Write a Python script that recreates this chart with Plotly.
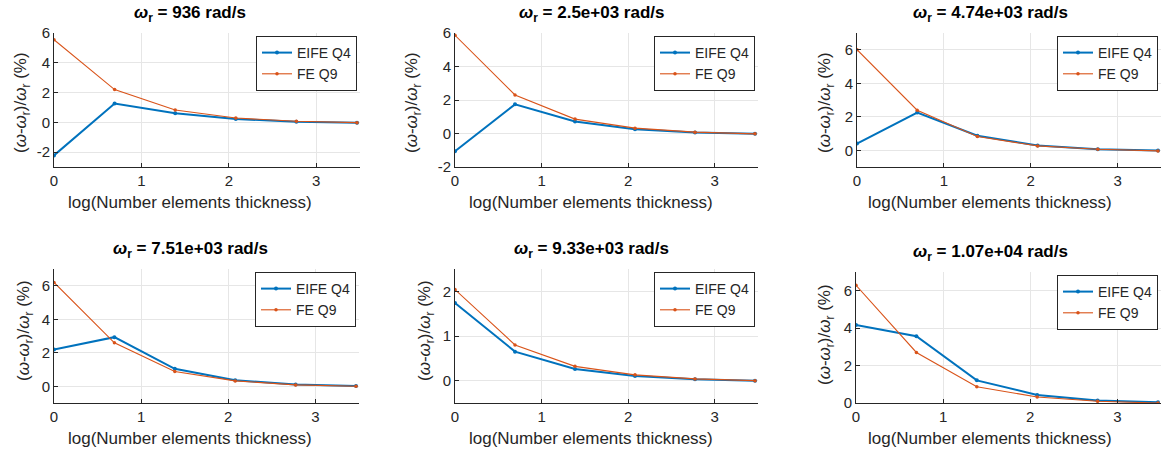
import numpy as np
import plotly.graph_objects as go

W, H = 1170, 450

x_vals = [0.0, 0.6931, 1.3863, 2.0794, 2.7726, 3.4657]

titles = ["936", "2.5e+03", "4.74e+03", "7.51e+03", "9.33e+03", "1.07e+04"]

eife_q4 = [
    [-2.22, 1.26, 0.61, 0.22, 0.04, -0.03],
    [-1.06, 1.74, 0.72, 0.26, 0.06, -0.02],
    [0.40, 2.25, 0.87, 0.28, 0.06, -0.02],
    [2.19, 2.93, 1.04, 0.36, 0.10, 0.02],
    [1.74, 0.65, 0.26, 0.105, 0.03, 0.0],
    [4.17, 3.57, 1.21, 0.43, 0.14, 0.04],
]
fe_q9 = [
    [5.55, 2.20, 0.83, 0.29, 0.07, -0.02],
    [5.86, 2.30, 0.86, 0.32, 0.08, -0.02],
    [6.00, 2.39, 0.82, 0.26, 0.06, -0.04],
    [6.20, 2.59, 0.88, 0.32, 0.08, 0.0],
    [2.04, 0.80, 0.32, 0.13, 0.04, 0.0],
    [6.29, 2.70, 0.87, 0.32, 0.09, 0.0],
]

y_ranges = [[-3, 6], [-2, 6], [-1, 7], [-1, 7], [-0.5, 2.5], [0, 7]]
y_tickvals = [
    [-2, 0, 2, 4, 6],
    [-2, 0, 2, 4, 6],
    [0, 2, 4, 6],
    [0, 2, 4, 6],
    [0, 1, 2],
    [0, 2, 4, 6],
]
x_tickvals = [0, 1, 2, 3]

# pixel boxes (left, right, top, bottom)
boxes = [
    (54, 360, 33, 167),
    (455, 758, 33, 167),
    (857, 1161, 33, 167),
    (54, 359, 269, 403),
    (455, 758, 269, 403),
    (856, 1161, 272, 403),
]
text_cx = [190, 591, 990, 190, 591, 990]
ylabel_x = [22, 413, 826, 25, 426, 826]
ylabel_y = [103, 103, 103, 331, 331, 335]

BLUE = "#0072BD"
ORANGE = "#D95319"
FONT = "Liberation Sans, Arial, sans-serif"
TXT = "#262626"

fig = go.Figure()
annotations = []
for i in range(6):
    l, r, t, b = boxes[i]
    ax = "" if i == 0 else str(i + 1)
    xa = "x" + ax
    ya = "y" + ax
    leg = "legend" if i == 0 else "legend" + str(i + 1)
    fig.add_trace(go.Scatter(
        x=x_vals, y=eife_q4[i], mode="lines+markers", name="EIFE Q4",
        line=dict(color=BLUE, width=2), marker=dict(size=4, color=BLUE),
        xaxis=xa, yaxis=ya, legend=leg))
    fig.add_trace(go.Scatter(
        x=x_vals, y=fe_q9[i], mode="lines+markers", name="FE Q9",
        line=dict(color=ORANGE, width=1.1), marker=dict(size=3.5, color=ORANGE),
        xaxis=xa, yaxis=ya, legend=leg))

    axis_common = dict(
        showgrid=True, gridcolor="#e6e6e6", gridwidth=1, zeroline=False,
        showline=True, linecolor="#262626", linewidth=1, mirror=False,
        ticks="inside", ticklen=4, tickcolor="#262626", automargin=False,
        tickfont=dict(family=FONT, size=15, color=TXT),
    )
    fig.layout["xaxis" + ax] = dict(
        domain=[l / W, r / W], range=[0, 3.5],
        tickvals=x_tickvals, ticktext=[f"{v:g}" for v in x_tickvals],
        anchor=ya, **axis_common)
    fig.layout["yaxis" + ax] = dict(
        domain=[1 - b / H, 1 - t / H], range=y_ranges[i],
        tickvals=y_tickvals[i], ticktext=[f"{v:g}" for v in y_tickvals[i]],
        anchor=xa, **axis_common)
    fig.layout[leg] = dict(
        x=(r - 3) / W, y=1 - (t + 3) / H, xanchor="right", yanchor="top",
        xref="paper", yref="paper",
        bgcolor="white", bordercolor="#262626", borderwidth=1,
        font=dict(family=FONT, size=14, color=TXT),
        tracegroupgap=0, itemwidth=30,
    )
    cx = text_cx[i]
    annotations.append(dict(
        text="<b><i>ω</i><sub>r</sub> = " + titles[i] + " rad/s</b>",
        x=cx / W, y=1 - (t - 19) / H, xref="paper", yref="paper",
        xanchor="center", yanchor="middle",
        showarrow=False, font=dict(family=FONT, size=17, color="black")))
    annotations.append(dict(
        text="log(Number elements thickness)",
        x=cx / W, y=1 - (b + 35) / H, xref="paper", yref="paper",
        xanchor="center", yanchor="middle",
        showarrow=False, font=dict(family=FONT, size=17, color=TXT)))
    annotations.append(dict(
        text="(<i>ω</i>-<i>ω</i><sub>r</sub>)/<i>ω</i><sub>r</sub> (%)",
        x=ylabel_x[i] / W, y=1 - ylabel_y[i] / H, xref="paper", yref="paper",
        xanchor="center", yanchor="middle",
        textangle=-90, showarrow=False,
        font=dict(family=FONT, size=17, color=TXT)))

fig.update_layout(
    width=W, height=H, autosize=False,
    margin=dict(l=0, r=0, t=0, b=0, pad=0, autoexpand=False),
    paper_bgcolor="white", plot_bgcolor="white",
    annotations=annotations,
    showlegend=True,
)

fig.write_html("out.html", config={"displayModeBar": False},
               post_script="document.body.style.margin='0';")
